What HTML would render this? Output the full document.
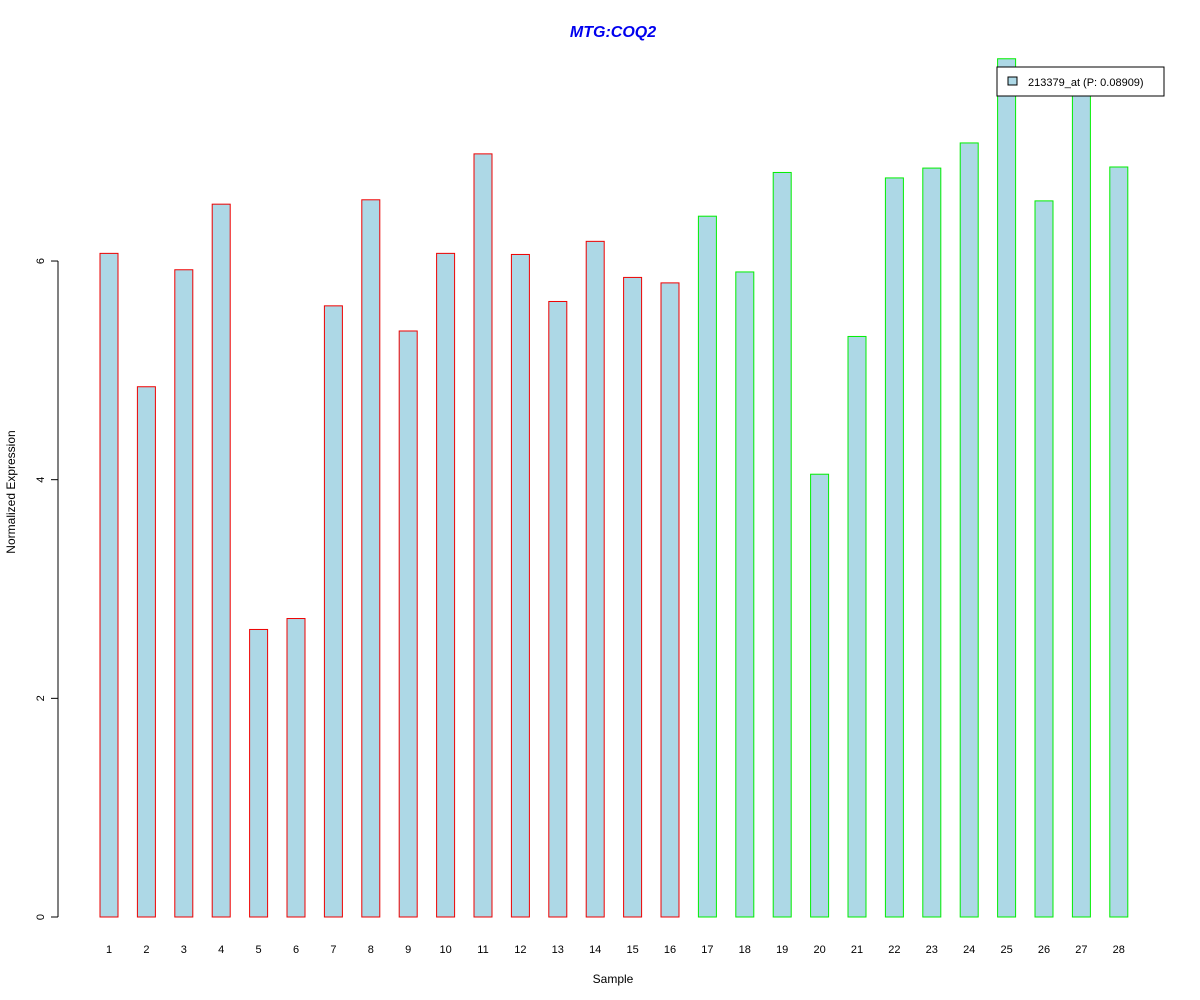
<!DOCTYPE html>
<html><head><meta charset="utf-8"><style>body{margin:0;background:#fff}svg{display:block;font-family:"Liberation Sans",Arial,sans-serif}</style></head>
<body>
<svg id="chart" width="1200" height="1000">
<text x="613" y="37" text-anchor="middle" font-size="16" font-weight="bold" font-style="italic" fill="#0000ee">MTG:COQ2</text>
<g id="bars"></g>
<g id="yaxis"></g>
<g id="xlabels"></g>
<text x="613" y="983" text-anchor="middle" font-size="12">Sample</text>
<text transform="translate(15,492) rotate(-90)" text-anchor="middle" font-size="12">Normalized Expression</text>
<g>
<rect x="997" y="67" width="167" height="29" fill="#fff" stroke="#000"/>
<rect x="1008" y="77" width="9" height="8" fill="#add8e6" stroke="#000"/>
<text x="1028" y="86" font-size="11">213379_at (P: 0.08909)</text>
</g>
</svg>
<script>
const samples = [1,2,3,4,5,6,7,8,9,10,11,12,13,14,15,16,17,18,19,20,21,22,23,24,25,26,27,28];
const values = [6.07,4.85,5.92,6.52,2.63,2.73,5.59,6.56,5.36,6.07,6.98,6.06,5.63,6.18,5.85,5.80,6.41,5.90,6.81,4.05,5.31,6.76,6.85,7.08,7.85,6.55,7.58,6.86];
const groups = ["a","a","a","a","a","a","a","a","a","a","a","a","a","a","a","a","b","b","b","b","b","b","b","b","b","b","b","b"];
const yTicks = [0,2,4,6];
const NS="http://www.w3.org/2000/svg";
const y = v => 917 - v*109.33;
const x = i => 109 + i*37.4;
const bars=document.getElementById('bars'), ya=document.getElementById('yaxis'), xl=document.getElementById('xlabels');
values.forEach((v,i)=>{
  const r=document.createElementNS(NS,'rect');
  r.setAttribute('x',x(i)-9);r.setAttribute('y',y(v));r.setAttribute('width',18);r.setAttribute('height',y(0)-y(v));
  r.setAttribute('fill','#add8e6');r.setAttribute('stroke',groups[i]==='a'?'#ee0000':'#00ee00');
  
  
  bars.appendChild(r);
  const t=document.createElementNS(NS,'text');
  t.setAttribute('x',x(i));t.setAttribute('y',953);t.setAttribute('text-anchor','middle');t.setAttribute('font-size','11');
  t.textContent=samples[i];
  
  
  xl.appendChild(t);
});
const ax=document.createElementNS(NS,'line');
ax.setAttribute('x1',58);ax.setAttribute('x2',58);ax.setAttribute('y1',y(6));ax.setAttribute('y2',y(0));ax.setAttribute('stroke','#000');
ya.appendChild(ax);
yTicks.forEach(v=>{
  const l=document.createElementNS(NS,'line');
  l.setAttribute('x1',51);l.setAttribute('x2',58);l.setAttribute('y1',y(v));l.setAttribute('y2',y(v));l.setAttribute('stroke','#000');
  
  
  ya.appendChild(l);
  const t=document.createElementNS(NS,'text');
  t.setAttribute('transform','translate(44,'+y(v)+') rotate(-90)');t.setAttribute('text-anchor','middle');t.setAttribute('font-size','11');
  t.textContent=v;
  
  
  ya.appendChild(t);
});
</script>
</body></html>
